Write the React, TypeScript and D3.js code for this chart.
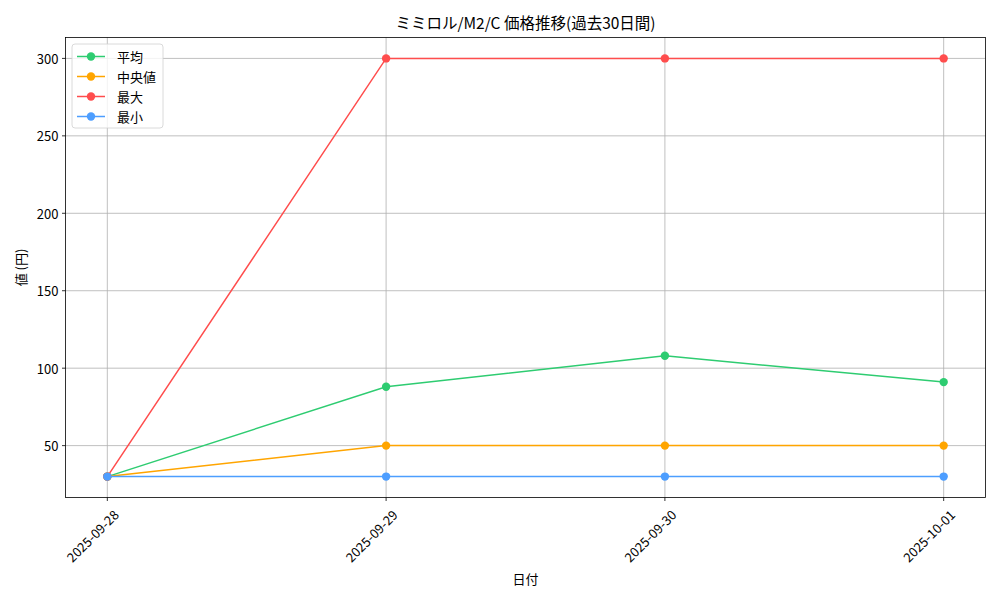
import React from "react";
import * as d3 from "d3";

const dates = ["2025-09-28", "2025-09-29", "2025-09-30", "2025-10-01"];
const meanValues = [30, 88, 108, 91];
const medianValues = [30, 50, 50, 50];
const maxValues = [30, 300, 300, 300];
const minValues = [30, 30, 30, 30];
const yTicks = [50, 100, 150, 200, 250, 300];
const seriesNames = ["平均", "中央値", "最大", "最小"];
const seriesColors = ["#2ecc71", "#ffa500", "#ff4d4d", "#4d9eff"];
const title = "ミミロル/M2/C 価格推移(過去30日間)";
const xLabel = "日付";
const yLabel = "値 (円)";

const W = 1000;
const H = 600;
const left = 65.5;
const right = 985.5;
const top = 37.5;
const bottom = 497.5;
const FONT = "'Noto Sans CJK JP', 'DejaVu Sans', sans-serif";

export default function App() {
  const series = [meanValues, medianValues, maxValues, minValues];
  const x = d3.scaleLinear().domain([-0.15, dates.length - 1 + 0.15]).range([left, right]);
  const allVals = series.flat();
  const lo = d3.min(allVals)!;
  const hi = d3.max(allVals)!;
  const pad = (hi - lo) * 0.05;
  const y = d3.scaleLinear().domain([lo - pad, hi + pad]).range([bottom, top]);
  const line = d3
    .line<number>()
    .x((_, i) => x(i))
    .y((d) => y(d));

  return (
    <svg width={W} height={H} style={{ position: "absolute", left: 0, top: 0 }} fontFamily={FONT}>
      <rect x={0} y={0} width={W} height={H} fill="#fff" />
      {/* grid */}
      {dates.map((_, i) => (
        <line key={"gx" + i} x1={x(i)} x2={x(i)} y1={top} y2={bottom} stroke="#b0b0b0" strokeWidth={0.8} />
      ))}
      {yTicks.map((t) => (
        <line key={"gy" + t} x1={left} x2={right} y1={y(t)} y2={y(t)} stroke="#b0b0b0" strokeWidth={0.8} />
      ))}
      {/* series */}
      {series.map((vals, si) => (
        <g key={"s" + si}>
          <path d={line(vals)!} fill="none" stroke={seriesColors[si]} strokeWidth={1.5} />
          {vals.map((v, i) => (
            <circle key={i} cx={x(i)} cy={y(v)} r={4.2} fill={seriesColors[si]} />
          ))}
        </g>
      ))}
      {/* frame */}
      <rect x={left} y={top} width={right - left} height={bottom - top} fill="none" stroke="#000" strokeWidth={0.8} />
      {/* x ticks */}
      {dates.map((d, i) => (
        <g key={"xt" + i}>
          <line x1={x(i)} x2={x(i)} y1={bottom} y2={bottom + 3.5} stroke="#000" strokeWidth={0.8} />
          <text
            transform={`translate(${x(i) + 4},${bottom + 10}) rotate(-45)`}
            textAnchor="end"
            dominantBaseline="hanging"
            fontSize={13}
            fill="#000"
          >
            {d}
          </text>
        </g>
      ))}
      {/* y ticks */}
      {yTicks.map((t) => (
        <g key={"yt" + t}>
          <line x1={left - 3.5} x2={left} y1={y(t)} y2={y(t)} stroke="#000" strokeWidth={0.8} />
          <text x={left - 7} y={y(t)} textAnchor="end" dominantBaseline="central" fontSize={13} fill="#000">
            {t}
          </text>
        </g>
      ))}
      {/* labels */}
      <text x={(left + right) / 2} y={22} textAnchor="middle" dominantBaseline="central" fontSize={15.5} fill="#000">
        {title}
      </text>
      <text x={(left + right) / 2} y={578} textAnchor="middle" dominantBaseline="central" fontSize={13} fill="#000">
        {xLabel}
      </text>
      <text
        transform={`translate(20,${(top + bottom) / 2}) rotate(-90)`}
        textAnchor="middle"
        dominantBaseline="central"
        fontSize={13}
        fill="#000"
      >
        {yLabel}
      </text>
      {/* legend */}
      <rect x={72} y={44} width={91} height={84} rx={3} fill="#fff" fillOpacity={0.8} stroke="#d0d0d0" strokeWidth={0.8} />
      {seriesNames.map((n, i) => {
        const ly = 56.5 + i * 20;
        return (
          <g key={"lg" + i}>
            <line x1={77} x2={105} y1={ly} y2={ly} stroke={seriesColors[i]} strokeWidth={1.5} />
            <circle cx={91} cy={ly} r={4.2} fill={seriesColors[i]} />
            <text x={117} y={ly} dominantBaseline="central" fontSize={13} fill="#000">
              {n}
            </text>
          </g>
        );
      })}
    </svg>
  );
}
